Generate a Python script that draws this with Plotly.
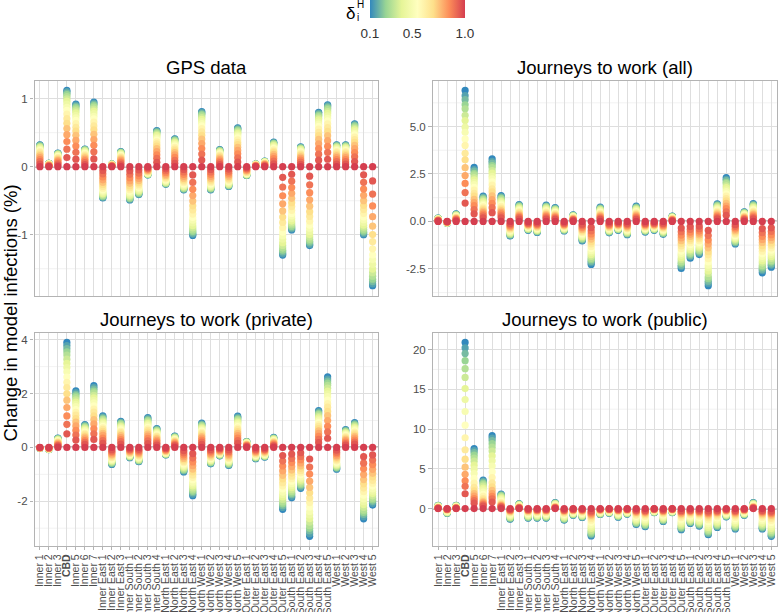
import plotly.graph_objects as go

# ---------------- data ----------------
regions = ["Inner 1", "Inner 2", "Inner 3", "CBD", "Inner 5", "Inner 6", "Inner 7",
           "Inner East 1", "Inner East 2", "Inner East 3",
           "Inner South 1", "Inner South 2", "Inner South 3", "Inner South 4",
           "North East 1", "North East 2", "North East 3", "North East 4",
           "North West 1", "North West 2", "North West 3", "North West 4", "North West 5",
           "Outer East 1", "Outer East 2", "Outer East 3", "Outer East 4", "Outer East 5",
           "South East 1", "South East 2", "South East 3", "South East 4", "South East 5",
           "West 1", "West 2", "West 3", "West 4", "West 5"]

delta = [0.1, 0.15, 0.2, 0.25, 0.3, 0.35, 0.4, 0.45, 0.5, 0.55,
         0.6, 0.65, 0.7, 0.75, 0.8, 0.85, 0.9, 0.95, 1.0]

# change at delta = 0.1 (tip of each column), per panel
gps_tip = [0.32, 0.05, 0.2, 1.12, 0.92, 0.26, 0.95,
           -0.46, 0.04, 0.22,
           -0.49, -0.41, -0.12, 0.53,
           -0.26, 0.41, -0.34, -1.01,
           0.81, -0.34, 0.25, -0.29, 0.57,
           -0.13, 0.04, 0.08, 0.36, -1.3,
           -0.93, 0.29, -1.16, 0.8, 0.91,
           0.32, 0.32, 0.63, -1.0, -1.75]
all_tip = [0.18, -0.1, 0.4, 6.9, 2.85, 1.33, 3.3,
           1.36, -0.77, 0.89,
           -0.47, -0.58, 0.86, 0.73,
           -0.5, 0.35, -1.03, -2.27,
           0.75, -0.6, -0.47, -0.7, 0.8,
           -0.56, -0.47, -0.68, 0.28, -2.48,
           -1.94, -1.75, -3.39, 0.93, 2.31,
           -1.19, 0.51, 0.94, -2.71, -2.41]
private_tip = [-0.03, -0.08, 0.35, 3.9, 2.1, 0.85, 2.3,
               1.17, -0.63, 0.97,
               -0.38, -0.53, 1.11, 0.7,
               -0.28, 0.42, -0.91, -1.79,
               0.9, -0.61, -0.31, -0.67, 1.16,
               0.22, -0.42, -0.36, 0.37, -2.3,
               -1.87, -1.52, -3.3, 1.37, 2.62,
               -0.81, 0.66, 0.92, -2.65, -2.14]
public_tip = [0.4, -0.6, 0.4, 20.9, 7.55, 3.57, 9.17,
              1.83, -1.33, 0.6,
              -1.2, -1.2, -1.2, 0.75,
              -1.45, -0.83, -1.12, -3.44,
              -0.75, -0.58, -1.08, -0.7, -1.99,
              -2.28, -0.5, -1.62, -0.5, -2.66,
              -1.87, -2.2, -3.28, -2.37, -1.04,
              -2.57, -0.83, 0.75, -2.57, -3.49]

# share of the tip value reached at each delta
gps_profile = [1.0, 0.985, 0.965, 0.945, 0.92, 0.89, 0.86, 0.82, 0.78, 0.74,
               0.69, 0.63, 0.57, 0.50, 0.42, 0.33, 0.23, 0.12, 0.0]
all_profile = [1.0, 0.96, 0.93, 0.89, 0.86, 0.81, 0.77, 0.72, 0.68, 0.63,
               0.58, 0.52, 0.47, 0.41, 0.35, 0.29, 0.22, 0.14, 0.0]
private_profile = [1.0, 0.97, 0.94, 0.91, 0.88, 0.84, 0.80, 0.76, 0.72, 0.67,
                   0.62, 0.57, 0.51, 0.45, 0.38, 0.30, 0.22, 0.13, 0.0]
public_profile = [1.0, 0.967, 0.933, 0.89, 0.842, 0.789, 0.722, 0.656, 0.584, 0.502,
                  0.426, 0.354, 0.297, 0.249, 0.206, 0.167, 0.134, 0.089, 0.0]

panel_titles = ["GPS data", "Journeys to work (all)",
                "Journeys to work (private)", "Journeys to work (public)"]
gps_yticks = [-1, 0, 1]
all_yticks = [-2.5, 0.0, 2.5, 5.0]
private_yticks = [-2, 0, 2, 4]
public_yticks = [0, 5, 10, 15, 20]
cbar_ticks = [0.1, 0.5, 1.0]

tick_labels = ["<b>CBD</b>" if r == "CBD" else r for r in regions]

# ---------------- styling ----------------
W, H = 778, 612
FONT = "Liberation Sans, Arial, Helvetica, sans-serif"
spectral7 = ["#3288bd", "#99d594", "#e6f598", "#ffffbf", "#fee08b", "#fc8d59", "#d53e4f"]
colorscale = [[i / 6, c] for i, c in enumerate(spectral7)]

def px_x(p):
    return p / W

def px_y(p):
    return 1 - p / H

panels = [
    dict(tip=gps_tip, prof=gps_profile, yt=gps_yticks, fmt="{:g}", minor=0.5,
         xd=(34.5, 378), yd=(80.7, 295.5), bottom=False),
    dict(tip=all_tip, prof=all_profile, yt=all_yticks, fmt="{:.1f}", minor=1.25,
         xd=(432.7, 776.7), yd=(80.7, 295.5), bottom=False),
    dict(tip=private_tip, prof=private_profile, yt=private_yticks, fmt="{:g}", minor=1,
         xd=(34.5, 378), yd=(332.7, 546), bottom=True),
    dict(tip=public_tip, prof=public_profile, yt=public_yticks, fmt="{:g}", minor=2.5,
         xd=(432.7, 776.7), yd=(332.7, 546), bottom=True),
]

fig = go.Figure()
layout = {}
shapes = []
annotations = []

for i, p in enumerate(panels):
    n = "" if i == 0 else str(i + 1)
    xs, ys, cs = [], [], []
    for k, d in enumerate(delta):
        for r, t in zip(regions, p["tip"]):
            xs.append(r)
            ys.append(t * p["prof"][k])
            cs.append(d)
    fig.add_trace(go.Scatter(
        x=xs, y=ys, mode="markers", xaxis="x" + n, yaxis="y" + n,
        marker=dict(size=7.2, color=cs, coloraxis="coloraxis", line=dict(width=0)),
        showlegend=False, hoverinfo="skip"))

    lo, hi = min(ys), max(ys)
    pad = 0.05 * (hi - lo)
    grid = "#dedede"
    minor_vals = []
    v = 0.0
    while v > lo - pad:
        v -= p["minor"]
    while v < hi + pad:
        if all(abs(v - t) > 1e-9 for t in p["yt"]):
            minor_vals.append(v)
        v += p["minor"]
    layout["xaxis" + n] = dict(
        domain=[px_x(p["xd"][0]), px_x(p["xd"][1])], anchor="y" + n,
        type="category", categoryorder="array", categoryarray=regions,
        range=[-0.6, len(regions) - 0.4], autorange=False,
        showgrid=True, gridcolor=grid, gridwidth=1, zeroline=False,
        showline=True, mirror=True, linecolor="#b3b3b3", linewidth=1.3,
        tickmode="array", tickvals=regions, ticktext=tick_labels,
        showticklabels=p["bottom"], tickangle=-90,
        ticks="outside" if p["bottom"] else "", ticklen=3, tickcolor="#b3b3b3",
        tickfont=dict(family=FONT, size=10.5, color="#4d4d4d"), automargin=False)
    layout["yaxis" + n] = dict(
        domain=[px_y(p["yd"][1]), px_y(p["yd"][0])], anchor="x" + n,
        range=[lo - pad, hi + pad], autorange=False,
        showgrid=True, gridcolor=grid, gridwidth=1, zeroline=False,
        showline=True, mirror=True, linecolor="#b3b3b3", linewidth=1.3,
        tickmode="array", tickvals=p["yt"], ticktext=[p["fmt"].format(v) for v in p["yt"]],
        ticks="outside", ticklen=3.5, tickcolor="#b3b3b3",
        tickfont=dict(family=FONT, size=11.5, color="#4d4d4d"), automargin=False)
    for mv in minor_vals:
        shapes.append(dict(type="line", xref="x" + n + " domain", yref="y" + n,
                           x0=0, x1=1, y0=mv, y1=mv, layer="below",
                           line=dict(color="#ececec", width=0.7)))
    shapes.append(dict(type="line", xref="x" + n + " domain", yref="y" + n,
                       x0=0, x1=1, y0=0, y1=0, layer="below",
                       line=dict(color="black", width=1.2)))
    annotations.append(dict(
        text=panel_titles[i], xref="paper", yref="paper",
        x=px_x((p["xd"][0] + p["xd"][1]) / 2), y=px_y(p["yd"][0] - 13.5),
        xanchor="center", yanchor="middle", showarrow=False,
        font=dict(family=FONT, size=18.5, color="black")))

annotations.append(dict(
    text="Change in model infections (%)", xref="paper", yref="paper",
    x=px_x(9.5), y=px_y(313), textangle=-90, xanchor="center", yanchor="middle",
    showarrow=False, font=dict(family=FONT, size=18.5, color="black")))
# colourbar title: delta with sub i and sup H
annotations.append(dict(text="δ", xref="paper", yref="paper", x=px_x(350), y=px_y(13),
                        xanchor="center", yanchor="middle", showarrow=False,
                        font=dict(family=FONT, size=17, color="black")))
annotations.append(dict(text="H", xref="paper", yref="paper", x=px_x(360), y=px_y(5),
                        xanchor="center", yanchor="middle", showarrow=False,
                        font=dict(family=FONT, size=10, color="black")))
annotations.append(dict(text="i", xref="paper", yref="paper", x=px_x(357.5), y=px_y(17),
                        xanchor="center", yanchor="middle", showarrow=False,
                        font=dict(family=FONT, size=10, color="black")))

fig.update_layout(
    width=W, height=H, margin=dict(l=0, r=0, t=0, b=0),
    paper_bgcolor="white", plot_bgcolor="white",
    font=dict(family=FONT),
    coloraxis=dict(
        colorscale=colorscale, cmin=0.1, cmax=1.0,
        colorbar=dict(
            orientation="h", x=px_x(417.5), xanchor="center", y=1.0, yanchor="top",
            len=95, lenmode="pixels", thickness=18, thicknessmode="pixels",
            xpad=0, ypad=0, outlinewidth=0,
            tickmode="array", tickvals=cbar_ticks, ticktext=["0.1", "0.5", "1.0"],
            ticks="outside", ticklen=4, tickcolor="rgba(0,0,0,0)",
            tickfont=dict(family=FONT, size=13.5, color="#333333"),
            title=dict(text=""))),
    shapes=shapes, annotations=annotations,
    **layout)

fig.write_html("out.html", config={"displayModeBar": False},
               post_script="document.body.style.margin='0px';document.body.style.padding='0px';")
